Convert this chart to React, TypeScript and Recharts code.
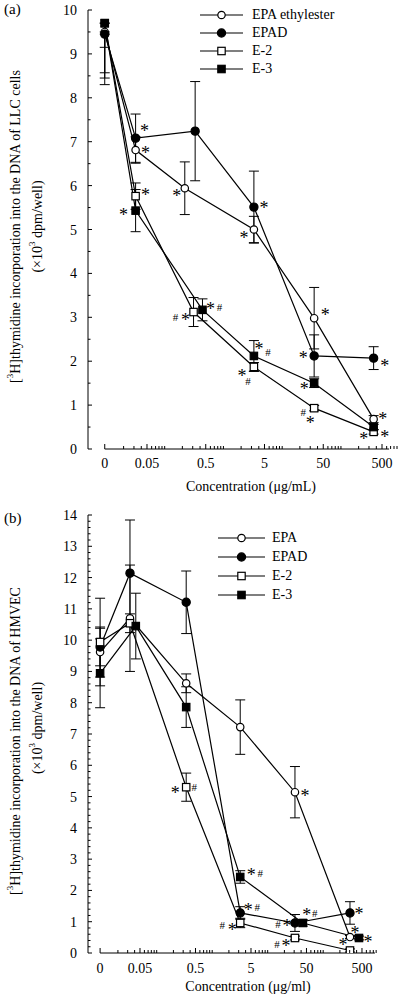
import {
  ErrorBar,
  LabelList,
  Legend,
  Line,
  LineChart,
  ReferenceLine,
  XAxis,
  YAxis,
} from 'recharts';

const FONT = '"Liberation Serif", "Times New Roman", serif';

// x axis: log scale, "0" drawn just left of where 0.01 would be
const X_TICK_VALUES = [0, 0.05, 0.5, 5, 50, 500];
const X_TICK_LABELS = ['0', '0.05', '0.5', '5', '50', '500'];
const ZERO_POS = -2.02;
const toPos = (c: number) => (c === 0 ? ZERO_POS : Math.log10(c));

const NAMES_A = ['EPA ethylester', 'EPAD', 'E-2', 'E-3'];
const NAMES_B = ['EPA', 'EPAD', 'E-2', 'E-3'];
const MARKERS = ['openCircle', 'circle', 'openSquare', 'square'];

type Err = number | [number, number];

// (a) LLC cells  (first error is [down, up]: only the lower half shows)
const A_EPA_X = [0, 0.032, 0.22, 3.3, 35, 360];
const A_EPA_Y = [9.5, 6.81, 5.94, 5.0, 2.98, 0.68];
const A_EPA_ERR: Err[] = [[1.2, 0], 0.3, 0.6, 0.3, 0.7, 0.08];
const A_EPA_NOTE = ['', '*', '*', '*', '*', '*'];

const A_EPAD_X = [0, 0.032, 0.33, 3.3, 35, 360];
const A_EPAD_Y = [9.45, 7.08, 7.24, 5.51, 2.12, 2.07];
const A_EPAD_ERR: Err[] = [[0.3, 0], 0.55, 1.13, 0.82, 0.48, 0.26];
const A_EPAD_NOTE = ['', '*', '', '*', '*', '*'];

const A_E2_X = [0, 0.032, 0.31, 3.3, 35, 360];
const A_E2_Y = [9.7, 5.76, 3.12, 1.87, 0.93, 0.39];
const A_E2_ERR: Err[] = [[1.13, 0], 0.3, 0.33, 0.1, 0.06, 0.05];
const A_E2_NOTE = ['', '*', '#*', '*#', '#*', '*'];

const A_E3_X = [0, 0.032, 0.44, 3.3, 35, 360];
const A_E3_Y = [9.7, 5.43, 3.17, 2.12, 1.5, 0.5];
const A_E3_ERR: Err[] = [[1.25, 0], 0.48, 0.25, 0.35, 0.1, 0.06];
const A_E3_NOTE = ['', '*', '*#', '*#', '*', '*'];

// (b) HMVEC
const B_EPA_X = [0, 0.033, 0.34, 3.2, 31, 304];
const B_EPA_Y = [9.62, 10.7, 8.62, 7.22, 5.14, 0.51];
const B_EPA_ERR: Err[] = [0.8, 1.7, 0.3, 0.87, 0.82, 0.05];
const B_EPA_NOTE = ['', '', '', '', '*', '*'];

const B_EPAD_X = [0, 0.033, 0.34, 3.2, 31, 304];
const B_EPAD_Y = [9.78, 12.14, 11.21, 1.28, 0.96, 1.28];
const B_EPAD_ERR: Err[] = [0.6, 1.7, 1.0, 0.2, 0.27, 0.36];
const B_EPAD_NOTE = ['', '', '', '*#', '#*', '*'];

const B_E2_X = [0, 0.033, 0.34, 3.2, 31, 304];
const B_E2_Y = [9.94, 10.54, 5.3, 0.96, 0.48, 0.08];
const B_E2_ERR: Err[] = [1.4, 0.3, 0.45, 0.15, 0.06, 0.05];
const B_E2_NOTE = ['', '', '*#', '#*', '#*', '*'];

const B_E3_X = [0, 0.042, 0.34, 3.2, 43, 442];
const B_E3_Y = [8.94, 10.45, 7.86, 2.43, 0.96, 0.48];
const B_E3_ERR: Err[] = [1.1, 1.05, 0.65, 0.2, 0.1, 0.06];
const B_E3_NOTE = ['', '', '', '*#', '*#', '*'];

// where each note glyph goes, relative to its point (px)
const NOTE_LAYOUT: Record<string, [number, number][]> = {
  'a-0-1': [[10, 0]], 'a-0-2': [[-8, 5]], 'a-0-3': [[-10, 6]], 'a-0-4': [[11, -6]], 'a-0-5': [[9, -3]],
  'a-1-1': [[9, -10]], 'a-1-3': [[10, -2]], 'a-1-4': [[-11, 0]], 'a-1-5': [[11, 5]],
  'a-2-1': [[10, -4]], 'a-2-2': [[-18, 5], [-8, 5]], 'a-2-3': [[-12, 7], [-6, 14]],
  'a-2-4': [[-11, 4], [-4, 12]], 'a-2-5': [[-10, 5]],
  'a-3-1': [[-12, 2]], 'a-3-2': [[8, -3], [17, -3]], 'a-3-3': [[5, -9], [14, -4]],
  'a-3-4': [[-10, 3]], 'a-3-5': [[11, 7]],
  'b-0-4': [[10, 1]], 'b-0-5': [[5, -7]],
  'b-1-3': [[8, -5], [17, -6]], 'b-1-4': [[-17, 1], [-8, 1]], 'b-1-5': [[9, -1]],
  'b-2-2': [[-11, 3], [8, 0]], 'b-2-3': [[-18, 2], [-8, 5]], 'b-2-4': [[-18, 6], [-9, 6]],
  'b-2-5': [[-7, -8]],
  'b-3-3': [[11, -4], [20, -4]], 'b-3-4': [[4, -10], [12, -10]], 'b-3-5': [[9, 2]],
};

const rows = (xs: number[], ys: number[], errs: Err[], notes: string[]) =>
  xs.map((c, i) => ({ pos: toPos(c), y: ys[i], err: errs[i], note: notes[i] }));

const SERIES_A = [
  rows(A_EPA_X, A_EPA_Y, A_EPA_ERR, A_EPA_NOTE),
  rows(A_EPAD_X, A_EPAD_Y, A_EPAD_ERR, A_EPAD_NOTE),
  rows(A_E2_X, A_E2_Y, A_E2_ERR, A_E2_NOTE),
  rows(A_E3_X, A_E3_Y, A_E3_ERR, A_E3_NOTE),
];
const SERIES_B = [
  rows(B_EPA_X, B_EPA_Y, B_EPA_ERR, B_EPA_NOTE),
  rows(B_EPAD_X, B_EPAD_Y, B_EPAD_ERR, B_EPAD_NOTE),
  rows(B_E2_X, B_E2_Y, B_E2_ERR, B_E2_NOTE),
  rows(B_E3_X, B_E3_Y, B_E3_ERR, B_E3_NOTE),
];

const X_MAJOR_POS = X_TICK_VALUES.map(toPos);
const X_MINOR_POS: number[] = [];
for (let n = -2; n <= 2; n++) {
  for (let k = 1; k <= 9; k++) {
    if (k === 5 || (n === -2 && k === 1)) continue;
    X_MINOR_POS.push(Math.log10(k * Math.pow(10, n)));
  }
}
const X_TICKS = [...X_MAJOR_POS, ...X_MINOR_POS];

function Marker({ kind, cx, cy }: { kind: string; cx: number; cy: number }) {
  const open = kind.startsWith('open');
  const fill = open ? '#fff' : '#000';
  if (kind.toLowerCase().includes('circle')) {
    return <circle cx={cx} cy={cy} r={open ? 3.7 : 4.1} fill={fill} stroke="#000" strokeWidth={1.2} />;
  }
  return (
    <rect x={cx - 3.7} y={cy - 3.7} width={7.4} height={7.4} fill={fill} stroke="#000" strokeWidth={1.2} />
  );
}

const makeDot = (kind: string) => (p: any) => (
  <Marker key={`dot-${p.index}`} kind={kind} cx={p.cx} cy={p.cy} />
);

function Note(props: any) {
  const { value, index, layoutKey } = props;
  if (!value) return null;
  const x = props.x ?? props.viewBox?.x;
  const y = props.y ?? props.viewBox?.y;
  const offs = NOTE_LAYOUT[`${layoutKey}-${index}`] || [[10, 0]];
  return (
    <g>
      {[...String(value)].map((ch, i) => {
        const [dx, dy] = offs[i] || offs[0];
        const star = ch === '*';
        return (
          <text
            key={i}
            x={x + dx}
            y={y + dy + (star ? 8.5 : 4)}
            textAnchor="middle"
            fontFamily={FONT}
            fontSize={star ? 18 : 11}
            fill="#000"
            stroke="none"
          >
            {ch}
          </text>
        );
      })}
    </g>
  );
}

type LegendCfg = { left: number; top: number; lineW: number; gap: number; rowH: number };

function LegendBox({ names, cfg }: { names: string[]; cfg: LegendCfg }) {
  return (
    <div style={{ fontFamily: FONT, fontSize: 14, color: '#000' }}>
      {names.map((n, i) => (
        <div key={n} style={{ display: 'flex', alignItems: 'center', height: cfg.rowH }}>
          <svg width={cfg.lineW} height={12} style={{ display: 'block' }}>
            <line x1={0} y1={6} x2={cfg.lineW} y2={6} stroke="#000" strokeWidth={1.2} />
            <Marker kind={MARKERS[i]} cx={cfg.lineW / 2} cy={6} />
          </svg>
          <span style={{ marginLeft: cfg.gap, lineHeight: 1 }}>{n}</span>
        </div>
      ))}
    </div>
  );
}

type PanelProps = {
  id: string;
  height: number;
  marginTop: number;
  xAxisHeight: number;
  xDomain: [number, number];
  xLineEnd: number;
  yMax: number;
  yMinor: number;
  xLabelDy: number;
  xTitle: string;
  xTitleX: number;
  xTitleDy: number;
  yTitle: string;
  yShift: [number, number];
  tag: string;
  tagY: number;
  names: string[];
  series: ReturnType<typeof rows>[];
  legend: LegendCfg;
};

function Panel(p: PanelProps) {
  const yTicks: number[] = [];
  const steps = Math.round(p.yMax / p.yMinor);
  for (let i = 0; i <= steps; i++) yTicks.push(+(i * p.yMinor).toFixed(3));

  const xTick = (t: any) => {
    const k = X_MAJOR_POS.findIndex((v) => Math.abs(v - t.payload.value) < 1e-6);
    const major = k >= 0;
    return (
      <g>
        <line x1={t.x} x2={t.x} y1={t.y} y2={t.y - (major ? 5 : 3)} stroke="#000" strokeWidth={1} />
        {major && (
          <text x={t.x} y={t.y + p.xLabelDy} textAnchor="middle" fontFamily={FONT} fontSize={14} fill="#000">
            {X_TICK_LABELS[k]}
          </text>
        )}
      </g>
    );
  };

  const yTick = (t: any) => {
    const v = t.payload.value;
    const major = Math.abs(v - Math.round(v)) < 1e-6;
    return (
      <g>
        <line x1={t.x} x2={t.x + (major ? 4 : 2.5)} y1={t.y} y2={t.y} stroke="#000" strokeWidth={1} />
        {major && (
          <text x={t.x - 11} y={t.y + 5} textAnchor="end" fontFamily={FONT} fontSize={14} fill="#000">
            {Math.round(v)}
          </text>
        )}
      </g>
    );
  };

  const yLabel = (lp: any) => {
    const vb = lp.viewBox;
    const cy = vb.y + vb.height / 2;
    const c1 = cy + p.yShift[0];
    const c2 = cy + p.yShift[1];
    return (
      <g fontFamily={FONT} fontSize={14} fill="#000">
        <text x={4} y={p.tagY} fontSize={15}>{p.tag}</text>
        <text x={15} y={c1} transform={`rotate(-90 15 ${c1})`} textAnchor="middle" dominantBaseline="central">
          [<tspan fontSize={9} dy={-5}>3</tspan>
          <tspan dy={5}>H]thymidine incorporation into the DNA of {p.yTitle}</tspan>
        </text>
        <text x={37} y={c2} transform={`rotate(-90 37 ${c2})`} textAnchor="middle" dominantBaseline="central">
          (×10<tspan fontSize={9} dy={-5}>3</tspan>
          <tspan dy={5}> dpm/well)</tspan>
        </text>
      </g>
    );
  };

  const xLabel = (lp: any) => (
    <text x={p.xTitleX} y={lp.viewBox.y + p.xTitleDy} textAnchor="middle" fontFamily={FONT} fontSize={14} fill="#000">
      {p.xTitle}
    </text>
  );

  return (
    <LineChart width={400} height={p.height} margin={{ top: p.marginTop, right: 8, bottom: 0, left: 0 }}>
      <XAxis
        type="number"
        dataKey="pos"
        domain={p.xDomain}
        allowDataOverflow
        ticks={X_TICKS}
        interval={0}
        tick={xTick}
        tickSize={0}
        tickMargin={0}
        tickLine={false}
        axisLine={false}
        height={p.xAxisHeight}
        label={{ content: xLabel }}
      />
      <YAxis
        type="number"
        domain={[0, p.yMax]}
        allowDataOverflow
        ticks={yTicks}
        interval={0}
        tick={yTick}
        tickSize={0}
        tickMargin={0}
        tickLine={false}
        axisLine={{ stroke: '#000', strokeWidth: 1 }}
        width={88}
        label={{ content: yLabel }}
      />
      <ReferenceLine
        segment={[{ x: ZERO_POS, y: 0 }, { x: p.xLineEnd, y: 0 }]}
        stroke="#000"
        strokeWidth={1}
        ifOverflow="visible"
      />
      <Legend
        layout="vertical"
        align="center"
        verticalAlign="middle"
        wrapperStyle={{ left: p.legend.left, top: p.legend.top, width: 190 }}
        content={() => <LegendBox names={p.names} cfg={p.legend} />}
      />
      {p.series.map((data, i) => (
        <Line
          key={p.names[i]}
          name={p.names[i]}
          data={data}
          dataKey="y"
          type="linear"
          stroke="#000"
          strokeWidth={1.2}
          dot={makeDot(MARKERS[i])}
          activeDot={false}
          isAnimationActive={false}
        >
          <ErrorBar dataKey="err" width={5} stroke="#000" strokeWidth={1} direction="y" />
          <LabelList dataKey="note" content={(lp: any) => <Note {...lp} layoutKey={`${p.id}-${i}`} />} />
        </Line>
      ))}
    </LineChart>
  );
}

export default function App() {
  return (
    <div style={{ position: 'absolute', left: 0, top: 0, width: 400, height: 994, background: '#fff' }}>
      <Panel
        id="a"
        height={494}
        marginTop={10}
        xAxisHeight={45}
        xDomain={[-2.305, 2.869]}
        xLineEnd={2.82}
        yMax={10}
        yMinor={0.5}
        xLabelDy={19}
        xTitle="Concentration (μg/mL)"
        xTitleX={251}
        xTitleDy={42}
        yTitle="LLC cells"
        yShift={[-3, -3]}
        tag="(a)"
        tagY={14}
        names={NAMES_A}
        series={SERIES_A}
        legend={{ left: 200, top: 6, lineW: 43, gap: 9, rowH: 18 }}
      />
      <Panel
        id="b"
        height={500}
        marginTop={21}
        xAxisHeight={41}
        xDomain={[-2.238, 3.24]}
        xLineEnd={2.933}
        yMax={14}
        yMinor={0.2}
        xLabelDy={20}
        xTitle="Concentration (μg/ml)"
        xTitleX={248}
        xTitleDy={38}
        yTitle="HMVEC"
        yShift={[7, -6]}
        tag="(b)"
        tagY={29}
        names={NAMES_B}
        series={SERIES_B}
        legend={{ left: 218, top: 34, lineW: 47, gap: 7, rowH: 19 }}
      />
    </div>
  );
}
